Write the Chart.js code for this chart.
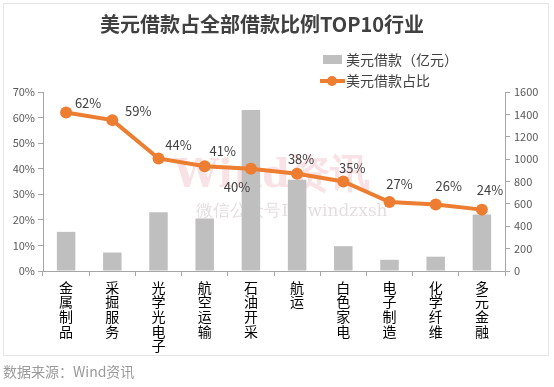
<!DOCTYPE html>
<html>
<head>
<meta charset="utf-8">
<script src="https://cdn.jsdelivr.net/npm/chart.js@4"></script>
<style>
  html, body { margin: 0; padding: 0; background: #fff; }
  #wrap { width: 554px; height: 387px; position: relative; }
</style>
</head>
<body>
<div id="wrap"><canvas id="chart" width="554" height="387"></canvas></div>
<script>
// 데이터
const categories = ['金属制品', '采掘服务', '光学光电子', '航空运输', '石油开采', '航运', '白色家电', '电子制造', '化学纤维', '多元金融'];
const usdLoans = [350, 165, 525, 470, 1440, 815, 222, 100, 128, 505];
const usdShare = [0.62, 0.59, 0.44, 0.41, 0.40, 0.38, 0.35, 0.27, 0.26, 0.24];
const leftTicks = [0, 0.1, 0.2, 0.3, 0.4, 0.5, 0.6, 0.7];
const rightTicks = [0, 200, 400, 600, 800, 1000, 1200, 1400, 1600];

const FONT = '"Noto Sans CJK SC", "Microsoft YaHei", sans-serif';
const ORANGE = '#ED7D31';

// 라벨 위치 보정 (점 기준)
const labelNudge = [[22, -9], [26, -9], [20, -13], [18, -15], [-14, 18], [4, -15], [9, -13], [10, -18], [13, -18], [8, -20]];

const decorPlugin = {
    id: 'decor',
    beforeDraw(chart) {
        const c = chart.ctx;
        c.save();
        c.strokeStyle = '#e6e6e6';
        c.lineWidth = 1;
        c.strokeRect(3.5, 3.5, 545, 352);

        // 워터마크
        c.fillStyle = 'rgba(230,150,160,0.28)';
        c.font = 'bold 40px "DejaVu Serif", serif';
        c.textAlign = 'center';
        c.textBaseline = 'middle';
        c.fillText('Wind资讯', 272, 177);
        c.fillStyle = 'rgba(180,160,170,0.35)';
        c.font = '17px "DejaVu Serif", serif';
        c.fillText('微信公众号ID:windzxsh', 292, 212);
        c.restore();
    },
    afterDraw(chart) {
        const c = chart.ctx;
        c.save();
        // 제목
        c.fillStyle = '#404040';
        c.font = 'bold 20px ' + FONT;
        c.textAlign = 'center';
        c.textBaseline = 'middle';
        c.fillText('美元借款占全部借款比例TOP10行业', 262, 24);

        // 범례
        c.textAlign = 'left';
        c.font = '14px ' + FONT;
        c.fillStyle = '#BFBFBF';
        c.fillRect(323, 55, 19, 9);
        c.fillStyle = '#404040';
        c.fillText('美元借款（亿元）', 346, 60);
        c.strokeStyle = ORANGE;
        c.lineWidth = 4;
        c.beginPath();
        c.moveTo(320, 81);
        c.lineTo(345, 81);
        c.stroke();
        c.fillStyle = ORANGE;
        c.beginPath();
        c.arc(332, 81, 5, 0, Math.PI * 2);
        c.fill();
        c.fillStyle = '#404040';
        c.fillText('美元借款占比', 346, 81);

        // 데이터 라벨
        const meta = chart.getDatasetMeta(1);
        c.font = '13px ' + FONT;
        c.textAlign = 'center';
        c.fillStyle = '#404040';
        meta.data.forEach((pt, i) => {
            const [dx, dy] = labelNudge[i];
            c.fillText(Math.round(usdShare[i] * 100) + '%', pt.x + dx, pt.y + dy);
        });

        // 출처
        c.textAlign = 'left';
        c.fillStyle = '#9a9a9a';
        c.font = '14px ' + FONT;
        c.fillText('数据来源：Wind资讯', 3, 372);
        c.restore();
    }
};

new Chart(document.getElementById('chart'), {
    data: {
        labels: categories.map(s => s.split('')),
        datasets: [
            {
                type: 'bar',
                label: '美元借款（亿元）',
                data: usdLoans,
                yAxisID: 'y1',
                backgroundColor: '#BFBFBF',
                barPercentage: 0.4,
                categoryPercentage: 1,
                order: 2
            },
            {
                type: 'line',
                label: '美元借款占比',
                data: usdShare,
                yAxisID: 'y',
                borderColor: ORANGE,
                backgroundColor: ORANGE,
                borderWidth: 4,
                pointRadius: 6,
                pointHoverRadius: 6,
                pointBorderWidth: 0,
                tension: 0,
                order: 1
            }
        ]
    },
    options: {
        responsive: false,
        animation: false,
        layout: { padding: { top: 92, right: 0, left: 0, bottom: 0 } },
        plugins: { legend: { display: false }, title: { display: false }, tooltip: { enabled: false } },
        scales: {
            x: {
                afterFit: s => { s.height = 116; },
                grid: { drawOnChartArea: false, offset: true, tickLength: 5, color: '#a6a6a6' },
                border: { color: '#a6a6a6' },
                ticks: { color: '#000', font: { size: 14, family: FONT, lineHeight: 1.05 }, maxRotation: 0, autoSkip: false, padding: 4 }
            },
            y: {
                position: 'left',
                min: 0, max: 0.7,
                afterFit: s => { s.width = 43; },
                afterBuildTicks: s => { s.ticks = leftTicks.map(v => ({ value: v })); },
                grid: { drawOnChartArea: false, tickLength: 5, color: '#a6a6a6' },
                border: { color: '#a6a6a6' },
                ticks: { color: '#595959', font: { size: 11, family: FONT }, padding: 3, callback: v => Math.round(v * 100) + '%' }
            },
            y1: {
                position: 'right',
                min: 0, max: 1600,
                afterFit: s => { s.width = 49; },
                afterBuildTicks: s => { s.ticks = rightTicks.map(v => ({ value: v })); },
                grid: { drawOnChartArea: false, tickLength: 5, color: '#a6a6a6' },
                border: { color: '#a6a6a6' },
                ticks: { color: '#595959', font: { size: 11, family: FONT }, padding: 4, callback: v => String(v) }
            }
        }
    },
    plugins: [decorPlugin]
});
</script>
</body>
</html>
